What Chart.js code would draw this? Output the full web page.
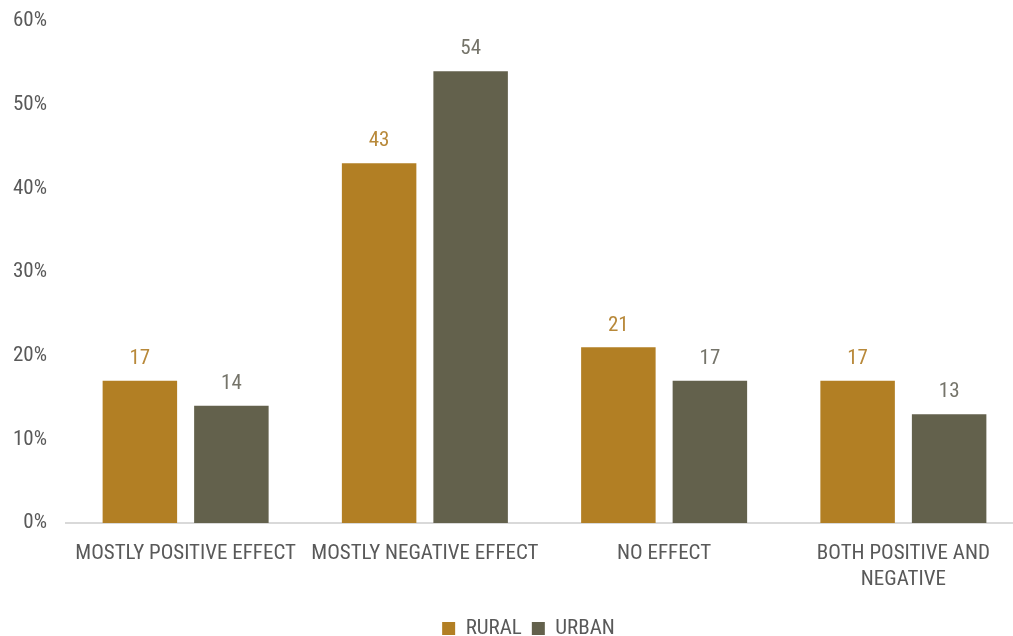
<!DOCTYPE html>
<html>
<head>
<meta charset="utf-8">
<script src="https://cdn.jsdelivr.net/npm/chart.js@4.4.1/dist/chart.umd.min.js"></script>
<style>
  html, body { margin: 0; padding: 0; background: #fff; overflow: hidden; }
  #wrap { width: 1023px; height: 636px; position: relative; }
</style>
</head>
<body>
<div id="wrap"><canvas id="effectChart"></canvas></div>
<script>
// Categories and survey shares (%)
const categories = [
    'MOSTLY POSITIVE EFFECT',
    'MOSTLY NEGATIVE EFFECT',
    'NO EFFECT',
    ['BOTH POSITIVE AND', 'NEGATIVE']
];
const rural = [17, 43, 21, 17];
const urban = [14, 54, 17, 13];
const seriesNames = ['RURAL', 'URBAN'];
const yTicks = [0, 10, 20, 30, 40, 50, 60];

const FONT = "'Roboto Condensed', 'Liberation Sans Narrow', Roboto, sans-serif";
const barColors = ['#b27f24', '#63614c'];
const valueColors = ['#b8893a', '#75746a'];

// Draws the value above each bar
const valueLabels = {
    id: 'valueLabels',
    afterDatasetsDraw(chart) {
        const ctx = chart.ctx;
        ctx.save();
        ctx.font = '21px ' + FONT;
        ctx.textAlign = 'center';
        ctx.textBaseline = 'middle';
        chart.data.datasets.forEach((ds, i) => {
            const meta = chart.getDatasetMeta(i);
            ctx.fillStyle = valueColors[i];
            meta.data.forEach((bar, j) => {
                ctx.fillText(ds.data[j], bar.x, bar.y - 22);
            });
        });
        ctx.restore();
    }
};

// Move the legend right and down into the bottom margin
const legendShift = {
    id: 'legendShift',
    afterLayout(chart) {
        const lg = chart.legend;
        lg.left += 17;
        lg.right += 17;
        lg.top += 13;
        lg.bottom += 13;
    }
};

const ctx = document.getElementById('effectChart').getContext('2d');
new Chart(ctx, {
    type: 'bar',
    data: {
        labels: categories,
        datasets: [
            {
                label: seriesNames[0],
                data: rural,
                backgroundColor: barColors[0],
                categoryPercentage: 0.765,
                barPercentage: 0.814
            },
            {
                label: seriesNames[1],
                data: urban,
                backgroundColor: barColors[1],
                categoryPercentage: 0.765,
                barPercentage: 0.814
            }
        ]
    },
    options: {
        responsive: true,
        maintainAspectRatio: false,
        animation: false,
        layout: {
            padding: { top: 21, right: 0, bottom: 0, left: 0 }
        },
        plugins: {
            legend: {
                position: 'bottom',
                labels: {
                    color: '#595959',
                    boxWidth: 13,
                    boxHeight: 13,
                    padding: 10,
                    font: { size: 21, family: FONT }
                }
            },
            tooltip: { enabled: false }
        },
        scales: {
            x: {
                afterFit(scale) { scale.height = 72; },
                grid: { display: false, drawTicks: false },
                border: { display: true, color: '#d9d9d9', width: 2 },
                ticks: {
                    color: '#595959',
                    autoSkip: false,
                    maxRotation: 0,
                    padding: 18,
                    font: { size: 21, family: FONT, lineHeight: '26px' }
                }
            },
            y: {
                min: 0,
                max: 60,
                afterFit(scale) {
                    scale.width = 66;
                    scale.paddingTop = 0;
                    scale.paddingBottom = 0;
                },
                afterBuildTicks(scale) {
                    scale.ticks = yTicks.map(v => ({ value: v }));
                },
                grid: { display: false, drawTicks: false },
                border: { display: false },
                ticks: {
                    color: '#595959',
                    padding: 19,
                    font: { size: 21, family: FONT },
                    callback: v => v + '%'
                }
            }
        }
    },
    plugins: [valueLabels, legendShift]
});
</script>
</body>
</html>
